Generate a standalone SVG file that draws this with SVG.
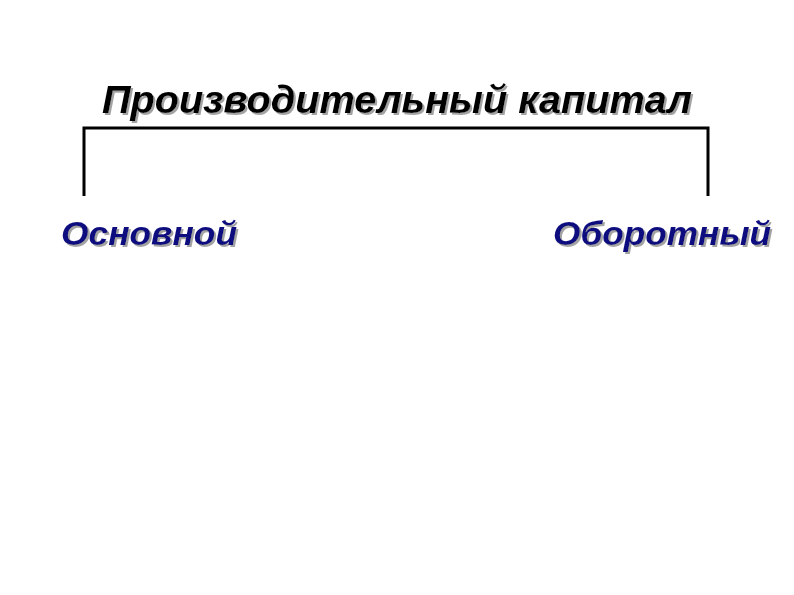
<svg xmlns="http://www.w3.org/2000/svg" width="794" height="595" viewBox="0 0 794 595">
<defs>
<filter id="shadow" x="-5%" y="-20%" width="110%" height="150%">
<feDropShadow dx="2" dy="2" stdDeviation="0.6" flood-color="#999" flood-opacity="0.9"/>
</filter>
</defs>
<style>
.t{font-family:"Liberation Sans",Arial,sans-serif;font-weight:bold;font-style:italic;filter:url(#shadow)}
.title{font-size:39px;fill:#000}
.lab{font-size:34px;fill:#0d0d80}
.c{stroke:#000;stroke-width:3;fill:none}
</style>
<rect width="794" height="595" fill="#fff"/>
<g id="title">
<text class="t title" x="102" y="113" textLength="590" lengthAdjust="spacingAndGlyphs">Производительный капитал</text>
</g>
<g id="connectors">
<path class="c" d="M84,196 V128 H708 V196"/>
</g>
<g id="osnovnoy">
<text class="t lab" x="61" y="245" textLength="176" lengthAdjust="spacingAndGlyphs">Основной</text>
</g>
<g id="oborotny">
<text class="t lab" x="553" y="245" textLength="218" lengthAdjust="spacingAndGlyphs">Оборотный</text>
</g>
</svg>
